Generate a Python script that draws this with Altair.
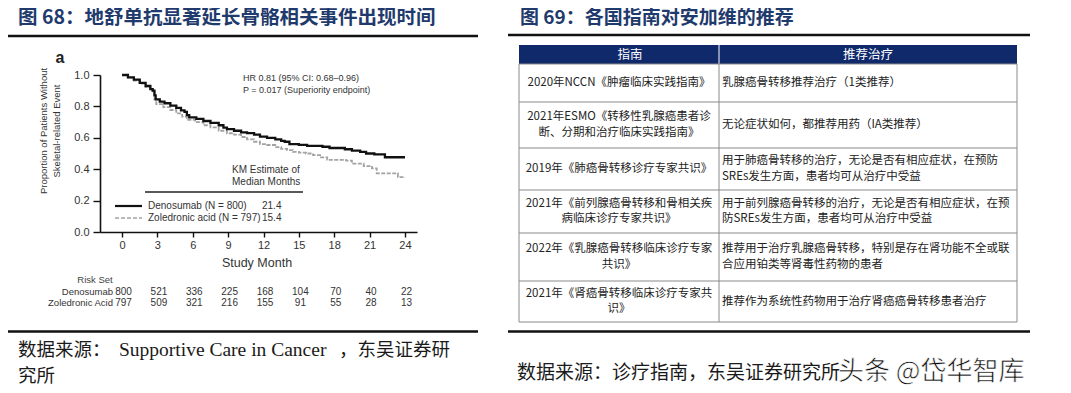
import altair as alt
import pandas as pd

# ---------------- data ----------------
# Kaplan-Meier curves
deno_month = [0, 0.5, 1.0, 1.5, 2.0, 2.4, 2.6, 2.75, 2.85, 3.2, 3.6, 4.1, 4.6, 5.0, 5.3, 5.5, 5.7, 6.3, 6.9,
              7.5, 8.2, 8.6, 8.9, 9.5, 10.1, 10.6, 11.2, 11.7, 12.3, 13.0, 13.5, 13.8, 14.2, 15.0, 15.7,
              17.0, 17.6, 18.9, 19.5, 20.2, 20.7, 21.4, 22.3, 24.0]
deno_surv = [1.0, 0.985, 0.97, 0.95, 0.93, 0.91, 0.90, 0.87, 0.845, 0.83, 0.82, 0.805, 0.79, 0.775, 0.765,
             0.745, 0.73, 0.72, 0.707, 0.695, 0.68, 0.665, 0.655, 0.645, 0.635, 0.63, 0.62, 0.607, 0.60,
             0.59, 0.58, 0.575, 0.56, 0.555, 0.548, 0.543, 0.535, 0.527, 0.518, 0.51, 0.50, 0.495, 0.476, 0.476]
zol_month = [0, 0.5, 1.0, 1.5, 2.0, 2.4, 2.6, 2.75, 2.9, 3.5, 4.1, 4.6, 5.1, 5.5, 6.2, 6.9, 7.5, 8.2, 8.9,
             9.5, 10.1, 10.6, 11.2, 11.7, 12.3, 13.0, 13.5, 14.0, 14.5, 15.0, 15.6, 16.2, 16.8, 17.4,
             19.0, 19.5, 20.5, 21.2, 21.6, 23.1, 23.4, 24.0]
zol_surv = [1.0, 0.983, 0.965, 0.945, 0.925, 0.905, 0.885, 0.845, 0.815, 0.795, 0.777, 0.755, 0.735, 0.715,
            0.70, 0.68, 0.667, 0.645, 0.629, 0.62, 0.605, 0.59, 0.575, 0.56, 0.554, 0.54, 0.53, 0.522,
            0.51, 0.505, 0.50, 0.49, 0.475, 0.46, 0.455, 0.435, 0.42, 0.405, 0.374, 0.374, 0.35, 0.348]

risk_months = [0, 3, 6, 9, 12, 15, 18, 21, 24]
risk_deno = [800, 521, 336, 225, 168, 104, 70, 40, 22]
risk_zol = [797, 509, 321, 216, 155, 91, 55, 28, 13]
x_ticks = [0, 3, 6, 9, 12, 15, 18, 21, 24]
y_ticks = [0.0, 0.2, 0.4, 0.6, 0.8, 1.0]

legend_names = ["Denosumab (N = 800)", "Zoledronic acid (N = 797)"]
legend_medians = ["21.4", "15.4"]

table_header = ["指南", "推荐治疗"]
table_guides = [
    ["2020年NCCN《肿瘤临床实践指南》"],
    ["2021年ESMO《转移性乳腺癌患者诊", "断、分期和治疗临床实践指南》"],
    ["2019年《肺癌骨转移诊疗专家共识》"],
    ["2021年《前列腺癌骨转移和骨相关疾", "病临床诊疗专家共识》"],
    ["2022年《乳腺癌骨转移临床诊疗专家", "共识》"],
    ["2021年《肾癌骨转移临床诊疗专家共", "识》"],
]
table_recs = [
    ["乳腺癌骨转移推荐治疗（1类推荐）"],
    ["无论症状如何，都推荐用药（IA类推荐）"],
    ["用于肺癌骨转移的治疗，无论是否有相应症状，在预防", "SREs发生方面，患者均可从治疗中受益"],
    ["用于前列腺癌骨转移的治疗，无论是否有相应症状，在预", "防SREs发生方面，患者均可从治疗中受益"],
    ["推荐用于治疗乳腺癌骨转移，特别是存在肾功能不全或联", "合应用铂类等肾毒性药物的患者"],
    ["推荐作为系统性药物用于治疗肾癌癌骨转移患者治疗"],
]

# ---------------- layout ----------------
W, H = 1055, 377
SANS = "Liberation Sans, Arial, sans-serif"
CJK = "Noto Sans CJK SC"
SERIF = "Liberation Serif, Noto Sans CJK SC"
TITLE_BLUE = "#1f3a6c"

XS = alt.Scale(domain=[-1.87, 25.02], range=[92, 409], nice=False, zero=False)
YS = alt.Scale(domain=[0, 1], range=[224, 67], nice=False, zero=False)

PX = dict(scale=None, axis=None)


def texts(rows, **mk):
    df = pd.DataFrame(rows, columns=["x", "y", "t"])
    return alt.Chart(df).mark_text(**mk).encode(
        x=alt.X("x:Q", **PX), y=alt.Y("y:Q", **PX), text="t:N")


def rules(rows, **mk):
    df = pd.DataFrame(rows, columns=["x", "x2", "y", "y2"])
    return alt.Chart(df).mark_rule(**mk).encode(
        x=alt.X("x:Q", **PX), x2="x2:Q", y=alt.Y("y:Q", **PX), y2="y2:Q")


layers = []

# ---- headings, rules, sources ----
layers.append(texts([(10, 0.5, "图 68：地舒单抗显著延长骨骼相关事件出现时间")],
                    font=CJK, fontSize=19.5, fontWeight="bold", color=TITLE_BLUE,
                    align="left", baseline="top"))
layers.append(texts([(512, 0.5, "图 69：各国指南对安加维的推荐")],
                    font=CJK, fontSize=19, fontWeight="bold", color=TITLE_BLUE,
                    align="left", baseline="top"))
layers.append(rules([(0, 470, 28, 28), (500, 1022, 27, 27),
                     (0, 470, 323.5, 323.5), (500, 1022, 323.5, 323.5)],
                    color="#111", strokeWidth=2.5))
layers.append(texts([(10, 342, "数据来源："),
                     (331, 342, "，东吴证券研"),
                     (10, 367.5, "究所")],
                    font=SERIF, fontSize=18.5, color="#1a1a1a", align="left", baseline="middle"))
layers.append(texts([(111, 342, "Supportive Care in Cancer")],
                    font=SERIF, fontSize=19.5, color="#1a1a1a", align="left", baseline="middle"))
layers.append(texts([(509, 365, "数据来源：诊疗指南，东吴证券研究所")],
                    font=SERIF, fontSize=19, color="#1a1a1a", align="left", baseline="middle"))
layers.append(texts([(830, 364, "头条 @岱华智库")],
                    font=CJK, fontSize=26, color="#111", align="left", baseline="middle",
                    stroke="white", strokeWidth=0.6))

# ---- KM plot ----
deno_df = pd.DataFrame({"month": deno_month, "p": deno_surv})
zol_df = pd.DataFrame({"month": zol_month, "p": zol_surv})

zol_line = alt.Chart(zol_df).mark_line(interpolate="step-after", color="#a3a3a3",
                                       strokeWidth=1.8, strokeDash=[4, 1.5]).encode(
    x=alt.X("month:Q", scale=XS, axis=None),
    y=alt.Y("p:Q", scale=YS, axis=None))

deno_line = alt.Chart(deno_df).mark_line(interpolate="step-after", color="#111",
                                         strokeWidth=2.3).encode(
    x=alt.X("month:Q", scale=XS,
            axis=alt.Axis(orient="bottom", offset=-153, values=x_ticks, title=None,
                          grid=False, domainColor="#111", domainWidth=1.6, tickColor="#111",
                          tickWidth=1.4, tickSize=5, labelPadding=2, labelFont=SANS,
                          labelFontSize=11, labelColor="#333", labelFlush=False,
                          labelOverlap=False)),
    y=alt.Y("p:Q", scale=YS,
            axis=alt.Axis(orient="left", offset=-92, values=y_ticks, format=".1f", title=None,
                          grid=False, domainColor="#111", domainWidth=1.6, tickColor="#111",
                          tickWidth=1.4, tickSize=7, labelPadding=4, labelFont=SANS,
                          labelFontSize=11, labelColor="#333", labelFlush=False,
                          labelOverlap=False)))
layers += [zol_line, deno_line]

# risk-set numbers on the month scale
risk_d_df = pd.DataFrame({"month": risk_months, "n": [str(v) for v in risk_deno]})
risk_z_df = pd.DataFrame({"month": risk_months, "n": [str(v) for v in risk_zol]})
for df, yy in ((risk_d_df, 284), (risk_z_df, 295)):
    layers.append(alt.Chart(df).mark_text(font=SANS, fontSize=10, color="#333",
                                          baseline="middle", dx=1.5).encode(
        x=alt.X("month:Q", scale=XS, axis=None), y=alt.value(yy), text="n:N"))

layers.append(texts([(52, 50, "a")], font=SANS, fontSize=16, fontWeight="bold", color="#222",
                    baseline="middle"))
layers.append(texts([(36, 123, "Proportion of Patients Without"),
                     (48.5, 123, "Skeletal-related Event")],
                    font=SANS, fontSize=9.5, color="#333", angle=270, baseline="middle"))
layers.append(texts([(249, 255, "Study Month")], font=SANS, fontSize=12.5, color="#333",
                    baseline="middle"))
layers.append(texts([(87, 272, "Risk Set")], font=SANS, fontSize=9.5, color="#444",
                    baseline="middle"))
layers.append(texts([(105, 284, "Denosumab"), (105, 295, "Zoledronic Acid")],
                    font=SANS, fontSize=9.5, color="#333", align="right", baseline="middle"))
layers.append(texts([(235, 70, "HR 0.81 (95% CI: 0.68–0.96)"),
                     (235, 81.5, "P = 0.017 (Superiority endpoint)")],
                    font=SANS, fontSize=9, color="#333", align="left", baseline="middle"))
layers.append(texts([(224, 162, "KM Estimate of"), (224, 174, "Median Months")],
                    font=SANS, fontSize=10, color="#333", align="left", baseline="middle"))
layers.append(rules([(137, 295, 184, 184)], color="#222", strokeWidth=1.3))
layers.append(rules([(107, 134, 198, 198)], color="#111", strokeWidth=2.2))
layers.append(rules([(107, 134, 210, 210)], color="#a3a3a3", strokeWidth=1.6, strokeDash=[4, 2]))
layers.append(texts([(140, 198, legend_names[0]), (140, 210, legend_names[1]),
                     (254, 198, legend_medians[0]), (254, 210, legend_medians[1])],
                    font=SANS, fontSize=10, color="#333", align="left", baseline="middle"))

# ---- table ----
TX0, TXM, TX1 = 511, 711, 1009
ROWS = [37, 56, 94, 140, 182, 225, 273, 314]
LH = 15.5
NAVY = "#10296a"

hdr = pd.DataFrame({"x": [TX0], "x2": [TX1], "y": [ROWS[0]], "y2": [ROWS[1]]})
layers.append(alt.Chart(hdr).mark_rect(color=NAVY).encode(
    x=alt.X("x:Q", **PX), x2="x2:Q", y=alt.Y("y:Q", **PX), y2="y2:Q"))
layers.append(rules([(TXM, TXM, ROWS[0], ROWS[1])], color="#ffffff", strokeWidth=1))
layers.append(texts([((TX0 + TXM) / 2 + 11, (ROWS[0] + ROWS[1]) / 2, table_header[0]),
                     ((TXM + TX1) / 2, (ROWS[0] + ROWS[1]) / 2, table_header[1])],
                    font=CJK, fontSize=12.5, color="white", baseline="middle"))

grid = [(TX0, TX1, r, r) for r in ROWS[1:]]
grid += [(x, x, ROWS[1], ROWS[-1]) for x in (TX0, TXM, TX1)]
layers.append(rules(grid, color="#8a8a8a", strokeWidth=1))

left_rows, right_rows = [], []
for i in range(len(table_guides)):
    cy = (ROWS[i + 1] + ROWS[i + 2]) / 2
    g = table_guides[i]
    for j, line in enumerate(g):
        left_rows.append(((TX0 + TXM) / 2, cy + (j - (len(g) - 1) / 2) * LH, line))
    r = table_recs[i]
    for j, line in enumerate(r):
        right_rows.append((TXM + 3, cy + (j - (len(r) - 1) / 2) * LH, line))
layers.append(texts(left_rows, font=CJK, fontSize=11.5, color="#222", baseline="middle"))
layers.append(texts(right_rows, font=CJK, fontSize=11.5, color="#222", align="left",
                    baseline="middle"))

chart = alt.layer(*layers).resolve_scale(x="independent", y="independent").properties(
    width=W, height=H, autosize=alt.AutoSizeParams(type="none"), padding=0,
    background="white"
).configure_view(stroke=None)

chart.save("out.html", embed_options={"renderer": "svg", "actions": False})
